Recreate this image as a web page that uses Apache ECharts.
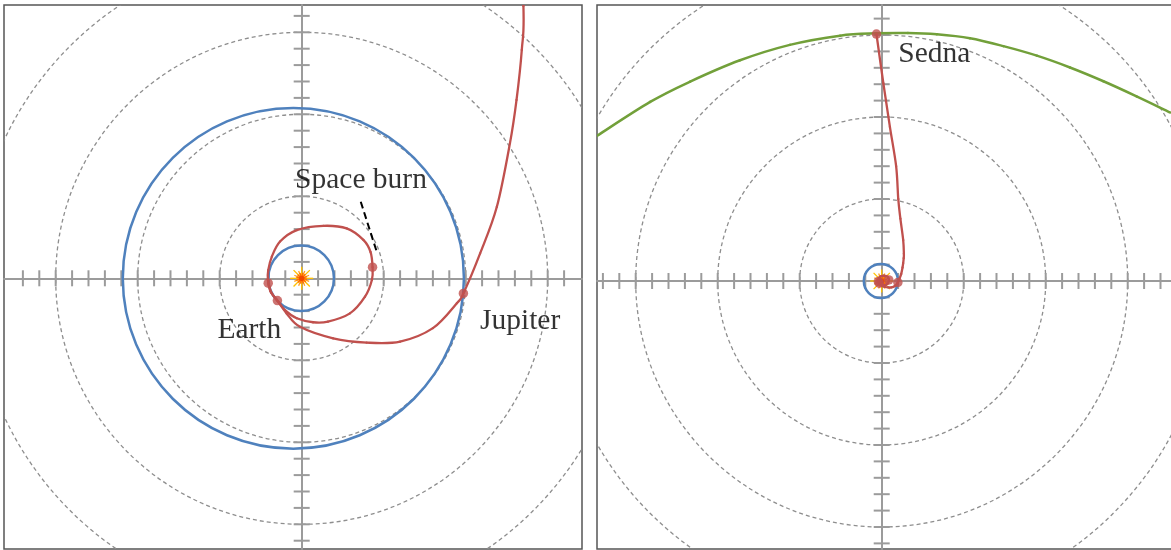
<!DOCTYPE html>
<html>
<head>
<meta charset="utf-8">
<script src="https://cdn.jsdelivr.net/npm/echarts@6/dist/echarts.min.js"></script>
<style>
  html, body { margin: 0; padding: 0; background: #ffffff; }
  #chart { width: 1171px; height: 550px; }
</style>
</head>
<body>
<div id="chart"></div>
<script>
// ---- Data (all distances in AU) ----

// Planet orbits: semi-major axis and eccentricity, perihelion on +x
const planetNames = ['Earth', 'Jupiter'];
const semiMajorAU = [1.0, 5.2];
const eccentricity = [0.0167, 0.0489];

// Dashed reference rings
const innerRings = [2.5, 5, 7.5, 10, 12.5];
const outerRings = [25, 50, 75, 100, 125];

// Axis tick values
const innerTicksX = [-8.5, -8, -7.5, -7, -6.5, -6, -5.5, -5, -4.5, -4, -3.5, -3, -2.5, -2, -1.5, -1, -0.5,
                     0.5, 1, 1.5, 2, 2.5, 3, 3.5, 4, 4.5, 5, 5.5, 6, 6.5, 7, 7.5, 8];
const innerTicksY = [-8, -7.5, -7, -6.5, -6, -5.5, -5, -4.5, -4, -3.5, -3, -2.5, -2, -1.5, -1, -0.5,
                     0.5, 1, 1.5, 2, 2.5, 3, 3.5, 4, 4.5, 5, 5.5, 6, 6.5, 7, 7.5, 8];
const outerTicksX = [-85, -80, -75, -70, -65, -60, -55, -50, -45, -40, -35, -30, -25, -20, -15, -10, -5,
                     5, 10, 15, 20, 25, 30, 35, 40, 45, 50, 55, 60, 65, 70, 75, 80, 85];
const outerTicksY = [-80, -75, -70, -65, -60, -55, -50, -45, -40, -35, -30, -25, -20, -15, -10, -5,
                     5, 10, 15, 20, 25, 30, 35, 40, 45, 50, 55, 60, 65, 70, 75, 80];

// Spacecraft path: Earth launch, loop with space burn, Earth flyby, Jupiter, out to Sedna
const trajectory = [
  [-1.02, -0.15], [-0.92, -0.45], [-0.74, -0.68], [-0.50, -0.98], [-0.15, -1.22],
  [0.35, -1.34], [0.80, -1.32], [1.47, -1.07], [1.93, -0.56], [2.14, -0.05],
  [2.16, 0.34], [2.10, 0.80], [1.88, 1.17], [1.37, 1.52], [0.66, 1.60],
  [-0.15, 1.47], [-0.66, 1.12], [-0.91, 0.66], [-1.02, 0.25], [-1.03, -0.05],
  [-0.95, -0.40], [-0.74, -0.68], [-0.46, -1.07], [-0.05, -1.48], [0.96, -1.83],
  [1.98, -1.96], [3.00, -1.93], [4.00, -1.52], [4.73, -0.76], [4.93, -0.46],
  [5.44, 0.76], [5.95, 2.18], [6.35, 4.12], [6.55, 5.44], [6.71, 6.96],
  [6.76, 8.30], [6.55, 12.5], [5.70, 19.0], [5.05, 25.0], [4.40, 35.0],
  [2.50, 47.0], [0.50, 60.3], [-1.60, 75.3]
];

// Sedna's orbit near perihelion
const sednaArc = [
  [-86.9, 44.2], [-70.6, 54.6], [-58.4, 60.8], [-43.2, 67.3], [-28.0, 72.0],
  [-12.7, 74.8], [-1.7, 75.5], [8.0, 75.6], [16.8, 75.2], [26.9, 74.0],
  [37.1, 71.6], [47.3, 68.7], [57.4, 65.1], [67.6, 60.9], [77.7, 56.3], [87.9, 51.4]
];

// Marked events along the path
const eventNames = ['Launch', 'Earth', 'Space burn', 'Jupiter', 'Sedna'];
const eventX = [-1.02, -0.74, 2.16, 4.93, -1.6];
const eventY = [-0.15, -0.68, 0.34, -0.46, 75.3];

// ---- Styling ----
const RED = '#C0504D';
const BLUE = '#4F81BD';
const GREEN = '#72A03A';
const AXIS = '#9B9B9B';
const RING = '#8E8E8E';
const FONT = '"Liberation Serif", "Times New Roman", serif';

// label offsets (px) per panel, keyed by event index
const leftLabelOffsets = { 1: [-60, 30], 2: [-77.5, -86.5], 3: [16.6, 27.5] };
const rightLabelOffsets = { 4: [21.8, 20.5] };

const chart = echarts.init(document.getElementById('chart'));

function ringSeries(idx, rings) {
  return {
    type: 'custom', xAxisIndex: idx, yAxisIndex: idx, clip: true, silent: true, z: 1,
    data: rings.map(r => [r, 0]),
    renderItem: (params, api) => {
      const r = api.value(0);
      const c = api.coord([0, 0]);
      const s = api.size([r, r]);
      return {
        type: 'ellipse',
        shape: { cx: c[0], cy: c[1], rx: s[0], ry: s[1] },
        style: { fill: 'none', stroke: RING, lineWidth: 1.3, lineDash: [4, 3] }
      };
    }
  };
}

function tickSeries(idx, xs, ys) {
  const data = xs.map(v => [v, 0, 0]).concat(ys.map(v => [0, v, 1]));
  return {
    type: 'custom', xAxisIndex: idx, yAxisIndex: idx, clip: true, silent: true, z: 1,
    data: data,
    renderItem: (params, api) => {
      const p = api.coord([api.value(0), api.value(1)]);
      const onX = api.value(2) === 0;
      return {
        type: 'line',
        shape: onX ? { x1: p[0], y1: p[1] - 8, x2: p[0], y2: p[1] + 8 }
                   : { x1: p[0] - 8, y1: p[1], x2: p[0] + 8, y2: p[1] },
        style: { stroke: AXIS, lineWidth: 2 }
      };
    }
  };
}

function orbitSeries(idx) {
  return {
    type: 'custom', xAxisIndex: idx, yAxisIndex: idx, clip: true, silent: true, z: 3,
    data: semiMajorAU.map((a, i) => ({ name: planetNames[i], value: [a, eccentricity[i]] })),
    renderItem: (params, api) => {
      const a = api.value(0), e = api.value(1);
      const b = a * Math.sqrt(1 - e * e);
      const c = api.coord([-a * e, 0]);
      const s = api.size([a, b]);
      return {
        type: 'ellipse',
        shape: { cx: c[0], cy: c[1], rx: s[0], ry: s[1] },
        style: { fill: 'none', stroke: BLUE, lineWidth: 2.5 }
      };
    }
  };
}

function sunSeries(idx) {
  return {
    type: 'custom', xAxisIndex: idx, yAxisIndex: idx, clip: true, silent: true, z: 4,
    data: [[0, 0]],
    renderItem: (params, api) => {
      const c = api.coord([api.value(0), api.value(1)]);
      const children = [];
      for (let k = 0; k < 16; k++) {
        const ang = k * Math.PI / 8;
        const long = k % 2 === 0;
        const L = long ? 11.5 : 8;
        children.push({
          type: 'line',
          shape: { x1: c[0], y1: c[1], x2: c[0] + L * Math.cos(ang), y2: c[1] + L * Math.sin(ang) },
          style: { stroke: long ? '#FFC000' : '#FFA020', lineWidth: 1.3 }
        });
      }
      for (let k = 0; k < 12; k++) {
        const ang = k * Math.PI / 6 + 0.2;
        children.push({
          type: 'line',
          shape: { x1: c[0], y1: c[1], x2: c[0] + 5.5 * Math.cos(ang), y2: c[1] + 5.5 * Math.sin(ang) },
          style: { stroke: '#FF6A00', lineWidth: 1.4 }
        });
      }
      children.push({ type: 'circle', shape: { cx: c[0], cy: c[1], r: 2.6 }, style: { fill: '#F04800' } });
      return { type: 'group', children: children };
    }
  };
}

// Smooth curve through the data points: each item draws the cubic segment
// from its point to the next one (Catmull-Rom tangents from the neighbours).
function curveSeries(idx, points, color, width, z) {
  return {
    type: 'custom', xAxisIndex: idx, yAxisIndex: idx, clip: true, silent: true, z: z,
    data: points,
    renderItem: (params, api) => {
      const i = params.dataIndexInside;
      const n = params.dataInsideLength;
      if (i >= n - 1) return null;
      const pt = k => {
        const j = Math.max(0, Math.min(n - 1, k));
        return api.coord([api.value(0, j), api.value(1, j)]);
      };
      const p0 = pt(i - 1), p1 = pt(i), p2 = pt(i + 1), p3 = pt(i + 2);
      return {
        type: 'bezierCurve',
        shape: {
          x1: p1[0], y1: p1[1], x2: p2[0], y2: p2[1],
          cpx1: p1[0] + (p2[0] - p0[0]) / 6, cpy1: p1[1] + (p2[1] - p0[1]) / 6,
          cpx2: p2[0] - (p3[0] - p1[0]) / 6, cpy2: p2[1] - (p3[1] - p1[1]) / 6
        },
        style: { fill: null, stroke: color, lineWidth: width, lineCap: 'round' }
      };
    }
  };
}

function eventSeries(idx, offsets) {
  return {
    type: 'scatter', xAxisIndex: idx, yAxisIndex: idx, z: 7, silent: true, clip: true,
    symbol: 'circle', symbolSize: 9.5,
    itemStyle: { color: RED },
    data: eventNames.map((n, i) => {
      const item = { name: n, value: [eventX[i], eventY[i]] };
      if (offsets[i]) {
        item.label = {
          show: true, formatter: n, position: 'inside', align: 'left', verticalAlign: 'middle',
          offset: offsets[i], color: '#000', fontFamily: FONT, fontSize: 29.5
        };
      }
      return item;
    })
  };
}

function leaderSeries(idx, eventIndex) {
  return {
    type: 'custom', xAxisIndex: idx, yAxisIndex: idx, clip: true, silent: true, z: 8,
    data: [[eventX[eventIndex], eventY[eventIndex]]],
    renderItem: (params, api) => {
      const c = api.coord([api.value(0), api.value(1)]);
      return {
        type: 'line',
        shape: { x1: c[0] - 11.8, y1: c[1] - 65.4, x2: c[0] + 4.2, y2: c[1] - 15.4 },
        style: { stroke: '#000', lineWidth: 2, lineDash: [7, 4] }
      };
    }
  };
}

function valueAxis(idx, min, max) {
  return {
    type: 'value', gridIndex: idx, min: min, max: max,
    axisLine: { show: true, onZero: true, lineStyle: { color: AXIS, width: 2 } },
    axisTick: { show: false }, axisLabel: { show: false }, splitLine: { show: false }
  };
}

const frame = { show: true, borderColor: '#555555', borderWidth: 1.5, backgroundColor: '#ffffff', containLabel: false, outerBoundsMode: 'none' };

chart.setOption({
  animation: false,
  backgroundColor: '#ffffff',
  grid: [
    Object.assign({ left: 4, top: 5, width: 578, height: 544 }, frame),
    Object.assign({ left: 597, top: 5, width: 578, height: 544 }, frame)
  ],
  xAxis: [valueAxis(0, -9.076, 8.546), valueAxis(1, -86.8, 89.42)],
  yAxis: [valueAxis(0, -8.253, 8.332), valueAxis(1, -81.71, 84.15)],
  series: [
    ringSeries(0, innerRings), tickSeries(0, innerTicksX, innerTicksY), orbitSeries(0),
    sunSeries(0), curveSeries(0, sednaArc, GREEN, 2.5, 5), curveSeries(0, trajectory, RED, 2.3, 6),
    eventSeries(0, leftLabelOffsets), leaderSeries(0, 2),
    ringSeries(1, outerRings), tickSeries(1, outerTicksX, outerTicksY), orbitSeries(1),
    sunSeries(1), curveSeries(1, sednaArc, GREEN, 2.5, 5), curveSeries(1, trajectory, RED, 2.3, 6),
    eventSeries(1, rightLabelOffsets)
  ]
});
</script>
</body>
</html>
